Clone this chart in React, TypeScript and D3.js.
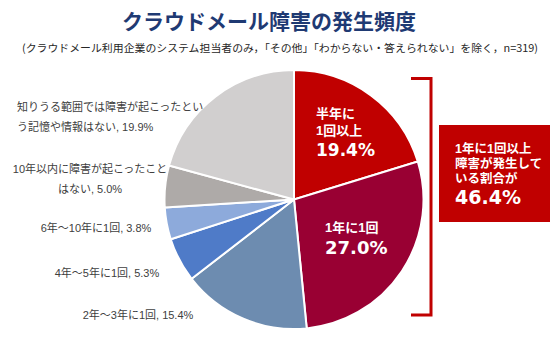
import React from "react";
import * as d3 from "d3";

const categories = [
  "半年に1回以上",
  "1年に1回",
  "2年～3年に1回",
  "4年～5年に1回",
  "6年～10年に1回",
  "10年以内に障害が起こったことはない",
  "知りうる範囲では障害が起こったという記憶や情報はない",
];
const values = [19.4, 27.0, 15.4, 5.3, 3.8, 5.0, 19.9];
const colors = ["#C00000", "#990033", "#6D8CB0", "#4F7BC8", "#8DAADB", "#AEAAA8", "#D1CFCF"];

// outside label lines (for slices 2..6)
const outsideLines: string[][] = [
  [],
  [],
  ["2年～3年に1回, 15.4%"],
  ["4年～5年に1回, 5.3%"],
  ["6年～10年に1回, 3.8%"],
  ["10年以内に障害が起こったこと", "はない, 5.0%"],
  ["知りうる範囲では障害が起こったとい", "う記憶や情報はない, 19.9%"],
];
// layout: anchor positions for outside labels
const outsideLayout: { x: number; y: number; anchor: string }[] = [
  { x: 0, y: 0, anchor: "middle" },
  { x: 0, y: 0, anchor: "middle" },
  { x: 138, y: 319, anchor: "middle" },
  { x: 107, y: 277, anchor: "middle" },
  { x: 96, y: 232, anchor: "middle" },
  { x: 90, y: 173, anchor: "middle" },
  { x: 17, y: 111, anchor: "start" },
];

const title = "クラウドメール障害の発生頻度";
const subtitle = "(クラウドメール利用企業のシステム担当者のみ，「その他」「わからない・答えられない」を除く，n=319)";
const boxLines = ["1年に1回以上", "障害が発生して", "いる割合が"];
const boxValue = "46.4%";

const JP = "'Noto Sans CJK JP', 'Noto Sans', sans-serif";
const JPC = "'Liberation Sans', 'Noto Sans CJK JP', sans-serif";
const NUM = "'DejaVu Sans', 'Noto Sans CJK JP', sans-serif";

export default function App() {
  const W = 551, H = 357;
  const cx = 294, cy = 199.5, r = 129.5;
  const pie = d3.pie<number>().sort(null).value((d) => d);
  const arcs = pie(values);
  const arc = d3.arc<d3.PieArcDatum<number>>().innerRadius(0).outerRadius(r);
  const fmt = (v: number) => v.toFixed(1) + "%";

  return (
    <svg width={W} height={H} style={{ position: "absolute", left: 0, top: 0, background: "#fff" }}>
      <text x={269} y={29} textAnchor="middle" fontFamily={JP} fontWeight="bold" fontSize={21} fill="#1F3A73">
        {title}
      </text>
      <text x={22} y={52} fontFamily={JP} fontSize={10.5} fill="#262626" textLength={516} lengthAdjust="spacingAndGlyphs">
        {subtitle}
      </text>
      <g transform={`translate(${cx},${cy})`}>
        {arcs.map((a, i) => (
          <path key={i} d={arc(a) || ""} fill={colors[i]} stroke="#fff" strokeWidth={2} strokeLinejoin="round" />
        ))}
      </g>
      {outsideLines.map((lines, i) =>
        lines.map((ln, j) => (
          <text
            key={i + "-" + j}
            x={outsideLayout[i].x}
            y={outsideLayout[i].y + j * 19.5}
            textAnchor={outsideLayout[i].anchor as any}
            fontFamily={JPC}
            fontSize={11}
            fill="#404040"
          >
            {ln}
          </text>
        ))
      )}
      {/* inner labels */}
      <g fill="#fff" fontWeight="bold">
        <text x={316} y={118} fontFamily={JPC} fontSize={13}>半年に</text>
        <text x={316} y={135} fontFamily={JPC} fontSize={13}>1回以上</text>
        <text x={316} y={156} fontFamily={NUM} fontSize={17}>{fmt(values[0])}</text>
        <text x={325} y={232} fontFamily={JPC} fontSize={13}>1年に1回</text>
        <text x={325} y={254} fontFamily={NUM} fontSize={18}>{fmt(values[1])}</text>
      </g>
      {/* bracket */}
      <path d="M411,78.5 H431 V315 H411" fill="none" stroke="#C00000" strokeWidth={3} />
      {/* box */}
      <rect x={439} y={125} width={111} height={97} fill="#C00000" />
      <g fill="#fff" fontWeight="bold">
        {boxLines.map((t, i) => (
          <text key={i} x={455} y={153 + i * 15} fontFamily={JPC} fontSize={12.5}>
            {t}
          </text>
        ))}
        <text x={455} y={204} fontFamily={NUM} fontSize={19}>{boxValue}</text>
      </g>
    </svg>
  );
}
